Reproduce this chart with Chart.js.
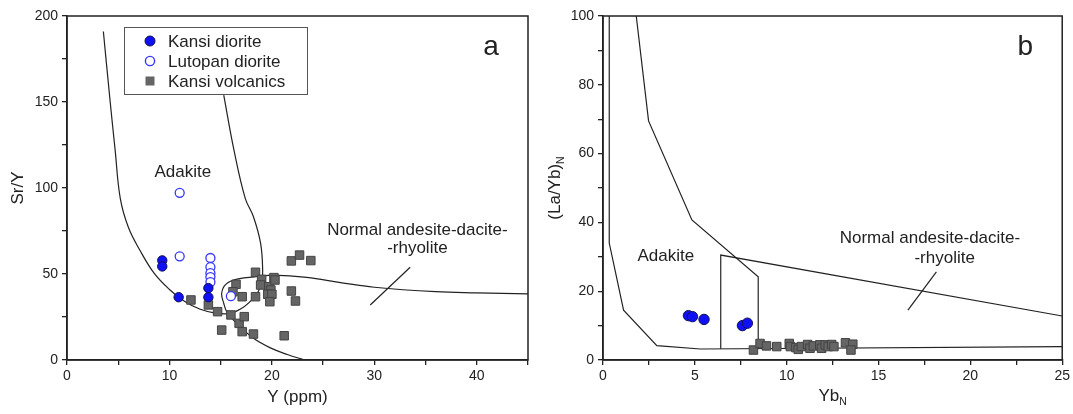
<!DOCTYPE html>
<html>
<head>
<meta charset="utf-8">
<script src="https://cdn.jsdelivr.net/npm/chart.js@4.4.1/dist/chart.umd.min.js"></script>
<style>
  body { margin: 0; background: #fff; }
  #wrap { position: relative; width: 1073px; height: 414px; }
  canvas { position: absolute; top: 0; }
</style>
</head>
<body>
<div id="wrap">
  <canvas id="panelA" width="540" height="414" style="left:0"></canvas>
  <canvas id="panelB" width="533" height="414" style="left:540px"></canvas>
</div>
<script>
//Panel a: Sr/Y vs Y (ppm)
const kansiDioriteY = [9.3, 9.3, 10.9, 13.8, 13.8];
const kansiDioriteSrY = [57.9, 54.4, 36.5, 41.8, 36.5];
const lutopanDioriteY = [11.0, 11.0, 14.0, 14.0, 14.0, 14.0, 14.0, 16.0];
const lutopanDioriteSrY = [97.2, 60.3, 59.3, 54.0, 50.5, 48.2, 45.3, 37.1];
const kansiVolcanicsY = [12.1, 13.8, 14.7, 15.1, 16.0, 16.5, 16.2, 16.8, 17.3, 17.1, 17.1, 18.2, 18.4, 18.4, 19.0,
  18.9, 19.7, 20.2, 20.3, 19.9, 19.6, 20.0, 19.8, 21.9, 22.7, 23.8, 21.9, 22.3, 21.2];
const kansiVolcanicsSrY = [34.9, 32.0, 28.1, 17.4, 26.2, 44.0, 39.7, 21.3, 25.2, 16.5, 36.8, 15.1, 51.0, 36.8, 46.9,
  43.6, 42.6, 47.9, 46.5, 40.7, 38.2, 38.2, 33.9, 57.6, 61.0, 57.8, 40.1, 34.3, 14.1];

//field boundaries, [x, y] pairs
const adakiteFieldA = [[3.55, 191], [4.2, 151], [4.7, 122], [5.2, 94], [6.0, 77], [7.1, 64], [8.5, 50.5],
  [10.0, 41], [11.5, 34], [13.0, 29.5], [14.5, 27.3], [15.8, 27], [16.9, 29.5], [17.8, 33.5], [18.6, 39],
  [19.0, 45], [19.1, 52], [18.9, 67.8], [18.2, 83.3], [17.4, 94], [16.3, 122], [15.3, 154]];
const adrFieldA = [[45, 38.4], [40, 39], [36, 39.7], [30, 42.3], [26.7, 45], [23.4, 48], [20.1, 49.3],
  [18.8, 48.6], [16.6, 47], [15.5, 44], [15.1, 38.8], [15.3, 33], [15.6, 28], [16.2, 23.5], [16.9, 19.4],
  [18.2, 12.6], [19.8, 7.2], [21.5, 3.2], [23.2, 0]];

//Panel b: (La/Yb)N vs YbN
const kansiDioriteYbN = [4.65, 4.87, 5.5, 7.59, 7.86];
const kansiDioriteLaYbN = [12.9, 12.6, 11.8, 10.0, 10.7];
const kansiVolcanicsYbN = [8.19, 8.55, 8.9, 9.46, 10.14, 10.2, 10.5, 10.63, 10.8, 11.14, 11.27, 11.45, 11.8,
  11.9, 12.1, 12.26, 12.45, 12.57, 13.2, 13.6, 13.5];
const kansiVolcanicsLaYbN = [2.9, 4.8, 4.1, 3.9, 4.8, 3.9, 3.6, 3.1, 3.9, 4.5, 3.4, 4.1, 4.4, 3.4, 4.4, 3.9,
  4.5, 3.9, 5.0, 4.6, 2.9];

const adakiteLowerB = [[0.34, 100], [0.34, 34], [1.12, 14.5], [2.93, 4.2], [5.3, 3.2], [25, 3.9]];
const adakiteUpperB = [[1.81, 100], [2.48, 69.5], [4.84, 40.7], [8.45, 24.2], [8.45, 3.3]];
const adrFieldB = [[6.41, 3.3], [6.41, 30.5], [25, 12.8]];

const FONT = "'Liberation Sans', Arial, sans-serif";
const INK = "#222";
const BLUE = "#1010f5";
const OPEN_BLUE = "#3535ff";
const GREY = "#656565";

const toPoints = (xs, ys) => xs.map((x, i) => ({ x, y: ys[i] }));
const fromPairs = arr => arr.map(p => ({ x: p[0], y: p[1] }));

const boundary = (pairs, tension) => ({
  type: "line",
  data: fromPairs(pairs),
  borderColor: INK,
  borderWidth: 1.2,
  pointRadius: 0,
  tension,
  fill: false,
  order: 2,
});

const markers = (label, pts, style) => Object.assign({
  type: "scatter",
  label,
  data: pts,
  order: 1,
}, style);

const filledCircle = r => ({ pointStyle: "circle", pointRadius: r, pointBackgroundColor: BLUE, pointBorderColor: "#101050", pointBorderWidth: 1 });
const openCircle = r => ({ pointStyle: "circle", pointRadius: r, pointBackgroundColor: "#fff", pointBorderColor: OPEN_BLUE, pointBorderWidth: 1.3 });
const greySquare = r => ({ pointStyle: "rect", pointRadius: r, pointBackgroundColor: GREY, pointBorderColor: "#444", pointBorderWidth: 1 });

//axis with major labelled ticks and minor unlabelled ticks
const axis = (min, max, step, major, fitSize, isX) => ({
  type: "linear",
  min,
  max,
  afterFit: s => { if (isX) s.height = fitSize; else s.width = fitSize; },
  afterBuildTicks: s => {
    s.ticks = [];
    for (let v = min; v <= max + 1e-9; v += step) s.ticks.push({ value: +v.toFixed(3) });
  },
  ticks: {
    autoSkip: false,
    maxRotation: 0,
    padding: isX ? 3 : 4,
    color: INK,
    font: { family: FONT, size: 14 },
    callback: v => (Math.abs(v / major - Math.round(v / major)) < 1e-6 ? v : ""),
  },
  grid: { drawOnChartArea: false, drawTicks: true, tickLength: 5, color: INK, lineWidth: 1.3 },
  border: { display: true, color: INK, width: 1.5 },
});

const drawText = (ctx, text, x, y, size) => {
  ctx.font = `${size}px ${FONT}`;
  ctx.fillStyle = INK;
  ctx.textAlign = "center";
  ctx.textBaseline = "middle";
  ctx.fillText(text, x, y);
};

//text with a subscript, centred on (cx, cy)
const drawSub = (ctx, main, sub, cx, cy, size, rotate) => {
  ctx.save();
  ctx.translate(cx, cy);
  if (rotate) ctx.rotate(-Math.PI / 2);
  ctx.fillStyle = INK;
  ctx.textBaseline = "middle";
  ctx.textAlign = "left";
  ctx.font = `${size}px ${FONT}`;
  const w1 = ctx.measureText(main).width;
  ctx.font = `${size * 0.62}px ${FONT}`;
  const w2 = ctx.measureText(sub).width;
  const start = -(w1 + w2) / 2;
  ctx.font = `${size}px ${FONT}`;
  ctx.fillText(main, start, 0);
  ctx.font = `${size * 0.62}px ${FONT}`;
  ctx.fillText(sub, start + w1, size * 0.38);
  ctx.restore();
};

const makeDecor = cfg => ({
  id: "decor",
  afterDatasetsDraw(chart) {
    const { ctx, chartArea: a, scales: { x, y } } = chart;
    ctx.save();
    ctx.strokeStyle = INK;
    ctx.lineWidth = 1.5;
    ctx.strokeRect(a.left, a.top, a.right - a.left, a.bottom - a.top);

    cfg.labels.forEach(l => drawText(ctx, l.text, x.getPixelForValue(l.x), y.getPixelForValue(l.y), 17));

    ctx.lineWidth = 1.2;
    ctx.beginPath();
    ctx.moveTo(x.getPixelForValue(cfg.leader[0][0]), y.getPixelForValue(cfg.leader[0][1]));
    ctx.lineTo(x.getPixelForValue(cfg.leader[1][0]), y.getPixelForValue(cfg.leader[1][1]));
    ctx.stroke();

    drawText(ctx, cfg.panel, a.right - 37, a.top + 31, 28);

    const midX = (a.left + a.right) / 2;
    const midY = (a.top + a.bottom) / 2;
    if (cfg.xSub) drawSub(ctx, cfg.xTitle, cfg.xSub, midX, 396, 17, false);
    else drawText(ctx, cfg.xTitle, midX, 397, 17);
    if (cfg.ySub) drawSub(ctx, cfg.yTitle, cfg.ySub, a.left - 48, midY, 17, true);
    else {
      ctx.save();
      ctx.translate(a.left - 49, midY);
      ctx.rotate(-Math.PI / 2);
      drawText(ctx, cfg.yTitle, 0, 0, 17);
      ctx.restore();
    }

    if (cfg.legend) {
      const lx = a.left + 57, ly = a.top + 11;
      ctx.fillStyle = "#fff";
      ctx.fillRect(lx, ly, 183, 67);
      ctx.strokeStyle = "#555";
      ctx.lineWidth = 1;
      ctx.strokeRect(lx + 0.5, ly + 0.5, 183, 67);
      const mx = a.left + 83;
      const rows = [a.top + 25, a.top + 45, a.top + 65];
      // filled circle
      ctx.beginPath(); ctx.arc(mx, rows[0], 5, 0, Math.PI * 2);
      ctx.fillStyle = BLUE; ctx.fill(); ctx.strokeStyle = "#101050"; ctx.stroke();
      // open circle
      ctx.beginPath(); ctx.arc(mx, rows[1], 4.6, 0, Math.PI * 2);
      ctx.fillStyle = "#fff"; ctx.fill(); ctx.strokeStyle = OPEN_BLUE; ctx.lineWidth = 1.4; ctx.stroke();
      // square
      ctx.fillStyle = GREY; ctx.fillRect(mx - 4.5, rows[2] - 4.5, 9, 9);
      ctx.font = `17px ${FONT}`;
      ctx.fillStyle = INK;
      ctx.textAlign = "left";
      ctx.textBaseline = "middle";
      cfg.legend.forEach((t, i) => ctx.fillText(t, a.left + 101, rows[i] + 1));
    }
    ctx.restore();
  },
});

Chart.defaults.animation = false;

new Chart(document.getElementById("panelA"), {
  type: "scatter",
  data: {
    datasets: [
      markers("Kansi diorite", toPoints(kansiDioriteY, kansiDioriteSrY), filledCircle(4.7)),
      markers("Lutopan diorite", toPoints(lutopanDioriteY, lutopanDioriteSrY), openCircle(4.5)),
      markers("Kansi volcanics", toPoints(kansiVolcanicsY, kansiVolcanicsSrY), greySquare(6)),
      boundary(adakiteFieldA, 0.4),
      boundary(adrFieldA, 0.4),
    ],
  },
  options: {
    responsive: false,
    layout: { padding: { left: 0, right: 12, top: 16, bottom: 0 } },
    plugins: { legend: { display: false }, tooltip: { enabled: false } },
    scales: {
      x: axis(0, 45, 5, 10, 54, true),
      y: axis(0, 200, 25, 50, 67, false),
    },
  },
  plugins: [makeDecor({
    panel: "a",
    xTitle: "Y (ppm)",
    yTitle: "Sr/Y",
    legend: ["Kansi diorite", "Lutopan diorite", "Kansi volcanics"],
    labels: [
      { text: "Adakite", x: 11.3, y: 109 },
      { text: "Normal andesite-dacite-", x: 34.2, y: 75.6 },
      { text: "-rhyolite", x: 34.2, y: 65.1 },
    ],
    leader: [[33.5, 53.9], [29.6, 32.0]],
  })],
});

new Chart(document.getElementById("panelB"), {
  type: "scatter",
  data: {
    datasets: [
      markers("Kansi diorite", toPoints(kansiDioriteYbN, kansiDioriteLaYbN), filledCircle(5.2)),
      markers("Kansi volcanics", toPoints(kansiVolcanicsYbN, kansiVolcanicsLaYbN), greySquare(6)),
      boundary(adakiteLowerB, 0),
      boundary(adakiteUpperB, 0),
      boundary(adrFieldB, 0),
    ],
  },
  options: {
    responsive: false,
    layout: { padding: { left: 0, right: 10, top: 16, bottom: 0 } },
    plugins: { legend: { display: false }, tooltip: { enabled: false } },
    scales: {
      x: axis(0, 25, 2.5, 5, 54, true),
      y: axis(0, 100, 10, 20, 63, false),
    },
  },
  plugins: [makeDecor({
    panel: "b",
    xTitle: "Yb",
    xSub: "N",
    yTitle: "(La/Yb)",
    ySub: "N",
    labels: [
      { text: "Adakite", x: 3.42, y: 30.2 },
      { text: "Normal andesite-dacite-", x: 17.8, y: 35.4 },
      { text: "-rhyolite", x: 18.6, y: 29.6 },
    ],
    leader: [[18.15, 25.6], [16.6, 14.5]],
  })],
});
</script>
</body>
</html>
